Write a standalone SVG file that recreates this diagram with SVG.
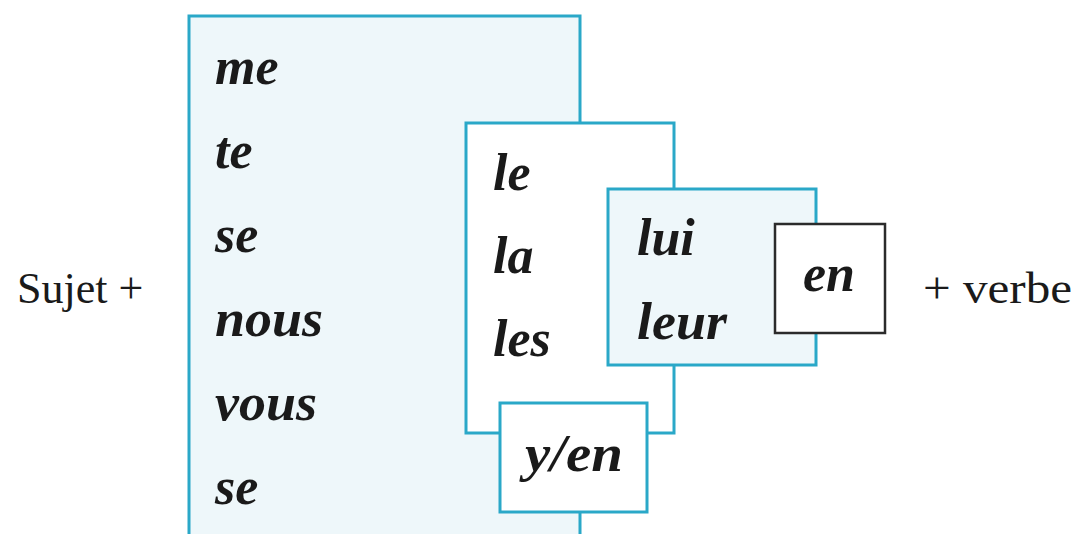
<svg xmlns="http://www.w3.org/2000/svg" width="1078" height="534" viewBox="0 0 1078 534">
<style>
.b{stroke:#2aa8c8;stroke-width:3}
.lb{fill:#eef7fa}
.w{fill:#ffffff}
.t{font-family:"Liberation Serif",serif;font-weight:bold;font-style:italic;font-size:52px;fill:#1a1a1a}
.r{font-family:"Liberation Serif",serif;font-size:44px;fill:#1a1a1a}
</style>
<rect width="1078" height="534" fill="#ffffff"/>
<g id="connectors"/>
<g id="sujet"><text class="r" x="17" y="303">Sujet +</text></g>
<g id="verbe"><text class="r" x="923" y="303" textLength="149" lengthAdjust="spacingAndGlyphs">+ verbe</text></g>
<g id="box-reflexive">
<rect class="b lb" x="189" y="16" width="391" height="530"/>
<text class="t" x="215" y="84">me</text>
<text class="t" x="215" y="168">te</text>
<text class="t" x="215" y="252">se</text>
<text class="t" x="215" y="336" textLength="108" lengthAdjust="spacingAndGlyphs">nous</text>
<text class="t" x="215" y="420" textLength="102" lengthAdjust="spacingAndGlyphs">vous</text>
<text class="t" x="215" y="504">se</text>
</g>
<g id="box-direct">
<rect class="b w" x="466" y="123" width="208" height="310"/>
<text class="t" x="493" y="190">le</text>
<text class="t" x="493" y="273">la</text>
<text class="t" x="493" y="356">les</text>
</g>
<g id="box-indirect">
<rect class="b lb" x="608" y="189" width="208" height="176"/>
<text class="t" x="637" y="255">lui</text>
<text class="t" x="637" y="339" textLength="90" lengthAdjust="spacingAndGlyphs">leur</text>
</g>
<g id="box-en">
<rect x="775" y="224" width="110" height="109" fill="#ffffff" stroke="#2b2b2b" stroke-width="2.5"/>
<text class="t" x="803" y="291">en</text>
</g>
<g id="box-yen">
<rect class="b w" x="500" y="403" width="147" height="109"/>
<text class="t" x="525" y="471" textLength="98" lengthAdjust="spacingAndGlyphs">y/en</text>
</g>
</svg>
